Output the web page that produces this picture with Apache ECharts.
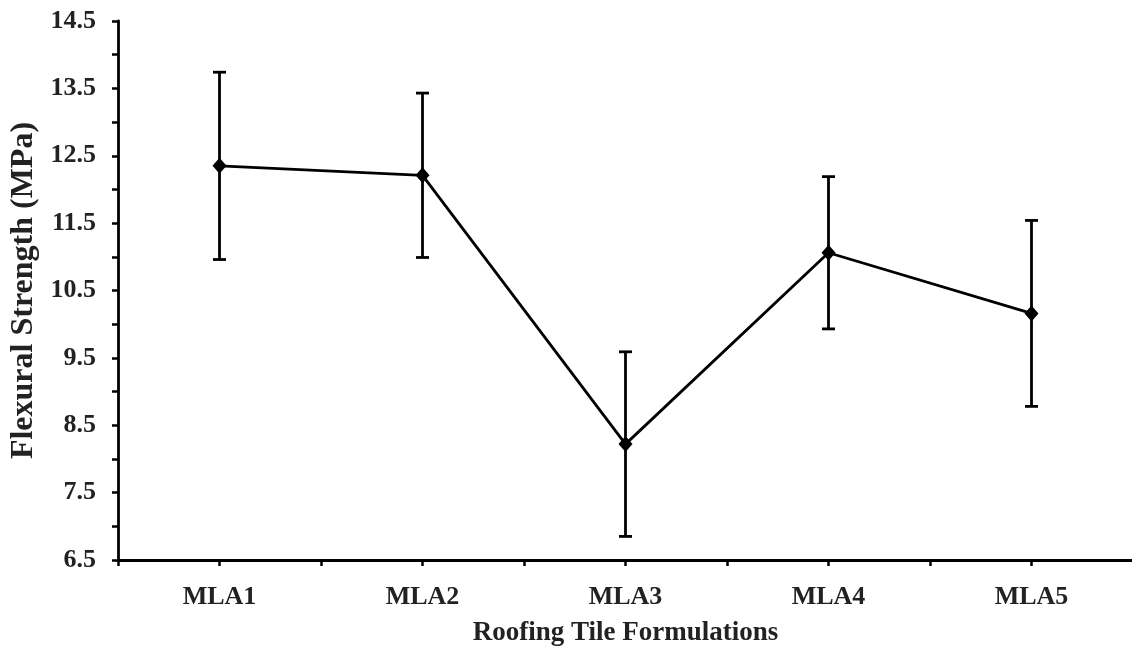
<!DOCTYPE html>
<html>
<head>
<meta charset="utf-8">
<script src="https://cdn.jsdelivr.net/npm/echarts@6/dist/echarts.min.js"></script>
<style>
html,body{margin:0;padding:0;background:#fff;}
#chart{width:1132px;height:646px;}
</style>
</head>
<body>
<div id="chart"></div>
<script>
var categories = ['MLA1', 'MLA2', 'MLA3', 'MLA4', 'MLA5'];
var strengthMean = [12.35, 12.21, 8.22, 11.06, 10.16];
var strengthErr = [1.39, 1.22, 1.37, 1.13, 1.38];
var yTickLabels = ['6.5', '7.5', '8.5', '9.5', '10.5', '11.5', '12.5', '13.5', '14.5'];
var yMin = 6.5, yMax = 14.5, yStep = 0.5;

var FONT = '"Liberation Serif", "Times New Roman", serif';
var chart = echarts.init(document.getElementById('chart'));

var errData = categories.map(function (c, i) {
  return [i, strengthMean[i] - strengthErr[i], strengthMean[i] + strengthErr[i]];
});

chart.setOption({
  backgroundColor: '#fff',
  animation: false,
  grid: { left: 118, top: 21, width: 1015, bottom: 86, containLabel: false, outerBoundsMode: 'none' },
  xAxis: [{
    type: 'category',
    data: categories,
    position: 'bottom',
    offset: 0,
    boundaryGap: true,
    name: 'Roofing Tile Formulations',
    nameLocation: 'middle',
    nameGap: 60,
    nameTextStyle: { fontFamily: FONT, fontWeight: 'bold', fontSize: 27, color: '#222' },
    axisLine: { show: true, lineStyle: { color: '#000', width: 2.8 } },
    axisTick: { show: true, alignWithLabel: true, length: 6, lineStyle: { color: '#000', width: 2.5 } },
    axisLabel: { fontFamily: FONT, fontWeight: 'bold', fontSize: 26, color: '#222', margin: 24 },
    splitLine: { show: false }
  }, {
    type: 'category',
    data: categories,
    position: 'bottom',
    offset: 0,
    boundaryGap: true,
    axisLine: { show: false },
    axisTick: { show: true, length: 6, lineStyle: { color: '#000', width: 2.5 } },
    axisLabel: { show: false },
    splitLine: { show: false }
  }],
  yAxis: {
    type: 'value',
    min: yMin,
    max: yMax,
    interval: yStep,
    name: 'Flexural Strength (MPa)',
    nameLocation: 'middle',
    nameGap: 77,
    nameTextStyle: { fontFamily: FONT, fontWeight: 'bold', fontSize: 32, color: '#222' },
    axisLine: { show: true, lineStyle: { color: '#000', width: 2.8 } },
    axisTick: { show: true, length: 6, lineStyle: { color: '#000', width: 2.5 } },
    axisLabel: {
      fontFamily: FONT, fontWeight: 'bold', fontSize: 26, color: '#222', margin: 22,
      formatter: function (v) {
        var s = v.toFixed(1);
        return yTickLabels.indexOf(s) >= 0 ? s : '';
      }
    },
    splitLine: { show: false }
  },
  series: [{
    type: 'custom',
    xAxisIndex: 0,
    data: errData,
    z: 3,
    renderItem: function (params, api) {
      var x = api.value(0);
      var lo = api.coord([x, api.value(1)]);
      var hi = api.coord([x, api.value(2)]);
      var hw = 6.5;
      var st = { stroke: '#000', lineWidth: 2.8 };
      return {
        type: 'group',
        children: [
          { type: 'line', shape: { x1: lo[0], y1: lo[1], x2: hi[0], y2: hi[1] }, style: st },
          { type: 'line', shape: { x1: lo[0] - hw, y1: lo[1], x2: lo[0] + hw, y2: lo[1] }, style: st },
          { type: 'line', shape: { x1: hi[0] - hw, y1: hi[1], x2: hi[0] + hw, y2: hi[1] }, style: st }
        ]
      };
    }
  }, {
    type: 'line',
    xAxisIndex: 0,
    data: strengthMean,
    z: 4,
    symbol: 'diamond',
    symbolSize: [14, 16],
    itemStyle: { color: '#000' },
    lineStyle: { color: '#000', width: 2.8 }
  }]
});
</script>
</body>
</html>
